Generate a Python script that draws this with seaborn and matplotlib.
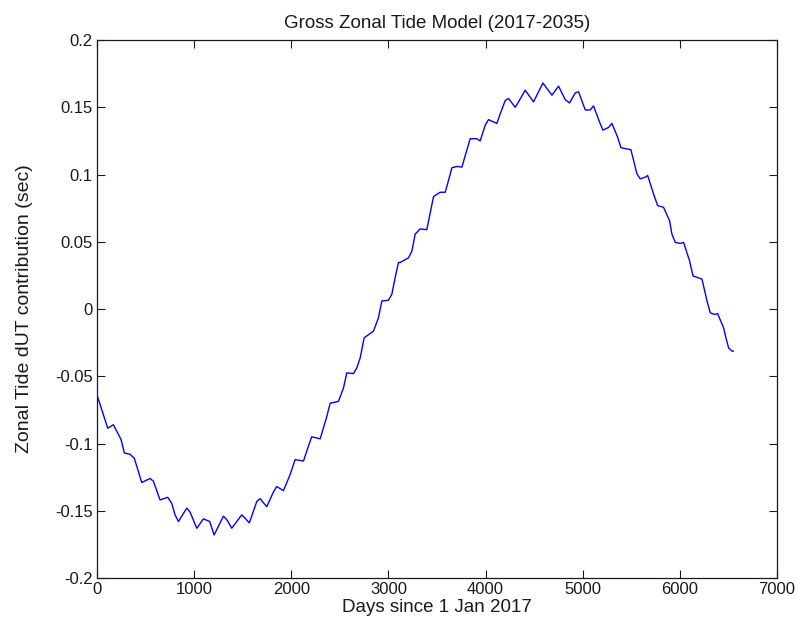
import matplotlib
matplotlib.use("Agg")
import matplotlib.pyplot as plt
import seaborn as sns
import pandas as pd

# values (days since 1 Jan 2017, dUT in sec)
days = [0, 110, 168, 247, 281, 340, 384, 460, 546, 580, 649, 728, 769, 803, 838, 924, 958,
        1027, 1095, 1160, 1205, 1301, 1340, 1387, 1490, 1530, 1568, 1645, 1679, 1747,
        1816, 1850, 1919, 1988, 2039, 2125, 2176, 2210, 2297, 2365, 2400, 2485,
        2537, 2571, 2640, 2674, 2709, 2750, 2846, 2897, 2932, 3000, 3035, 3069,
        3103, 3120, 3206, 3241, 3275, 3326, 3395, 3464, 3532, 3584, 3618, 3653,
        3704, 3756, 3790, 3841, 3910, 3944, 3996, 4030, 4116, 4150, 4202, 4236,
        4305, 4339, 4408, 4493, 4528, 4590, 4683, 4751, 4820, 4864, 4923, 4957,
        5026, 5077, 5111, 5173, 5208, 5266, 5300, 5358, 5393, 5455, 5496, 5558,
        5592, 5644, 5668, 5729, 5771, 5832, 5894, 5918, 5953, 6004, 6038, 6100,
        6135, 6182, 6228, 6279, 6313, 6354, 6389, 6450, 6478, 6502, 6536, 6553]
dut = [-0.064, -0.0886, -0.086, -0.097, -0.107, -0.108, -0.111, -0.129, -0.126, -0.128,
       -0.142, -0.140, -0.1445, -0.153, -0.158, -0.148, -0.151, -0.163, -0.156, -0.158,
       -0.168, -0.154, -0.157, -0.163, -0.153, -0.156, -0.159, -0.143, -0.141, -0.147,
       -0.136, -0.132, -0.135, -0.123, -0.112, -0.113, -0.102, -0.095, -0.0965, -0.080,
       -0.070, -0.0687, -0.0587, -0.0475, -0.048, -0.0438, -0.0363, -0.0214, -0.0164,
       -0.0065, 0.006, 0.0065, 0.011, 0.0234, 0.0346, 0.0346, 0.038, 0.043, 0.0557,
       0.0595, 0.059, 0.0836, 0.0868, 0.0868, 0.0955, 0.105, 0.106, 0.1055, 0.114,
       0.1266, 0.1266, 0.125, 0.1366, 0.1408, 0.138, 0.145, 0.155, 0.1565, 0.150, 0.154,
       0.1627, 0.154, 0.159, 0.168, 0.159, 0.1657, 0.1557, 0.1532, 0.1607, 0.1615, 0.148,
       0.148, 0.151, 0.139, 0.133, 0.135, 0.138, 0.128, 0.120, 0.119, 0.1184, 0.1005,
       0.0968, 0.098, 0.0993, 0.0856, 0.0769, 0.0756, 0.0657, 0.0557, 0.0495, 0.0488,
       0.0495, 0.0358, 0.0246, 0.0234, 0.0222, 0.006, -0.0028, -0.004, -0.0035, -0.014,
       -0.0226, -0.0289, -0.0313, -0.0313]

xticks = [0, 1000, 2000, 3000, 4000, 5000, 6000, 7000]
yticks = [-0.2, -0.15, -0.1, -0.05, 0, 0.05, 0.1, 0.15, 0.2]
ytick_labels = ["-0.2", "-0.15", "-0.1", "-0.05", "0", "0.05", "0.1", "0.15", "0.2"]

sns.set_style("ticks")
plt.rcParams["font.family"] = ["Liberation Sans", "DejaVu Sans"]
plt.rcParams["xtick.direction"] = "in"
plt.rcParams["ytick.direction"] = "in"

df = pd.DataFrame({"day": days, "dut": dut})

fig = plt.figure(figsize=(7.98, 6.37), dpi=100)
ax = fig.add_axes([0.1216, 0.0926, 0.8521, 0.8446])
sns.lineplot(data=df, x="day", y="dut", color="#0000ff", linewidth=1.0, ax=ax)

ax.set_xlim(0, 7000)
ax.set_ylim(-0.2, 0.2)
ax.set_xticks(xticks)
ax.set_xticklabels([str(t) for t in xticks])
ax.set_yticks(yticks)
ax.set_yticklabels(ytick_labels)
ax.tick_params(top=True, right=True, length=6, width=0.8, labelsize=12, colors="#1a1a1a", pad=3)
for s in ax.spines.values():
    s.set_linewidth(0.9)
    s.set_color("#1a1a1a")

ax.set_title("Gross Zonal Tide Model (2017-2035)", fontsize=13.5, color="#1a1a1a", pad=9)
ax.set_xlabel("Days since 1 Jan 2017", fontsize=13.5, color="#1a1a1a", labelpad=1)
ax.set_ylabel("Zonal Tide dUT contribution (sec)", fontsize=14, color="#1a1a1a", labelpad=16)

fig.savefig("out.png", dpi=100)
